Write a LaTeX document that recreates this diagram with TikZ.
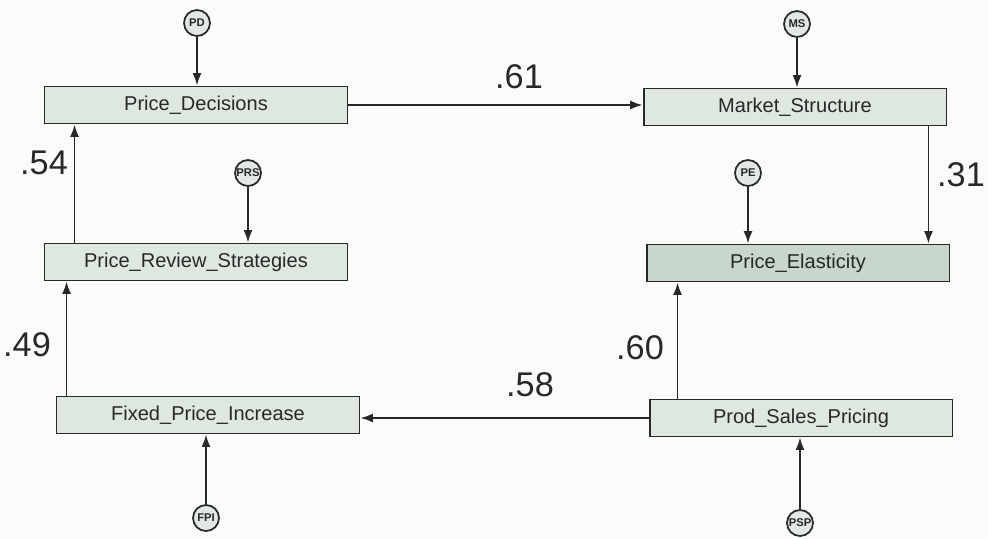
\documentclass[tikz,border=0pt]{standalone}
\usepackage{fontspec}
\setmainfont{Liberation Sans}
\usetikzlibrary{arrows.meta}

\definecolor{boxfill}{RGB}{222,232,224}
\definecolor{darkfill}{RGB}{200,214,204}
\definecolor{errfill}{RGB}{226,232,227}
\definecolor{inkgray}{RGB}{40,40,40}
\definecolor{paper}{RGB}{251,251,249}

\begin{document}
\begin{tikzpicture}[x=0.02cm, y=-0.02cm, >={Latex[length=2.5mm, width=1.8mm]},
  var/.style={draw=inkgray, line width=1.1pt, fill=boxfill, minimum width=6.06cm,
    minimum height=0.74cm, inner sep=0pt, text=inkgray,
    font=\fontsize{11.4}{13}\selectfont},
  err/.style={circle, draw=inkgray, line width=1pt, fill=errfill, minimum size=0.52cm,
    inner sep=0pt, text=inkgray, font=\fontsize{6.4}{7}\selectfont\bfseries},
  coef/.style={text=inkgray, font=\fontsize{19.5}{21}\selectfont},
  path/.style={->, draw=inkgray, line width=1pt}]
  \fill[paper] (0,0) rectangle (988,538);
  \useasboundingbox (0,0) rectangle (988,538);

  % observed variables
  \node[var] (pd) at (196,105) {Price\_Decisions};
  \node[var] (ms) at (795,107) {Market\_Structure};
  \node[var] (prs) at (196,262) {Price\_Review\_Strategies};
  \node[var, fill=darkfill] (pe) at (798,263) {Price\_Elasticity};
  \node[var] (fpi) at (208,415) {Fixed\_Price\_Increase};
  \node[var] (psp) at (801,418) {Prod\_Sales\_Pricing};

  % error terms
  \node[err] (epd) at (197,23) {PD};
  \node[err] (ems) at (797,24) {MS};
  \node[err] (eprs) at (248,173) {PRS};
  \node[err] (epe) at (748,173) {PE};
  \node[err] (efpi) at (206,518) {FPI};
  \node[err] (epsp) at (800,523) {PSP};

  \draw[path] (epd) -- (epd |- pd.north);
  \draw[path] (ems) -- (ems |- ms.north);
  \draw[path] (eprs) -- (eprs |- prs.north);
  \draw[path] (epe) -- (epe |- pe.north);
  \draw[path] (efpi) -- (efpi |- fpi.south);
  \draw[path] (epsp) -- (epsp |- psp.south);

  % structural paths
  \draw[path] (pd.east) -- (pd.east -| ms.west);
  \draw[path] ([xshift=-0.38cm]ms.south east) -- ([xshift=-0.38cm]ms.south east |- pe.north);
  \draw[path] ([xshift=0.62cm]prs.north west) -- ([xshift=0.62cm]prs.north west |- pd.south);
  \draw[path] ([xshift=0.22cm]fpi.north west) -- ([xshift=0.22cm]fpi.north west |- prs.south);
  \draw[path] (psp.west) -- (psp.west -| fpi.east);
  \draw[path] ([xshift=0.58cm]psp.north west) -- ([xshift=0.58cm]psp.north west |- pe.south);

  % coefficients
  \node[coef] (c61) at (519,77) {.61};
  \node[coef] (c54) at (44,163) {.54};
  \node[coef] (c31) at (961,175) {.31};
  \node[coef] (c49) at (27,345) {.49};
  \node[coef] (c60) at (640,348) {.60};
  \node[coef] (c58) at (530,385) {.58};
\end{tikzpicture}
\end{document}
